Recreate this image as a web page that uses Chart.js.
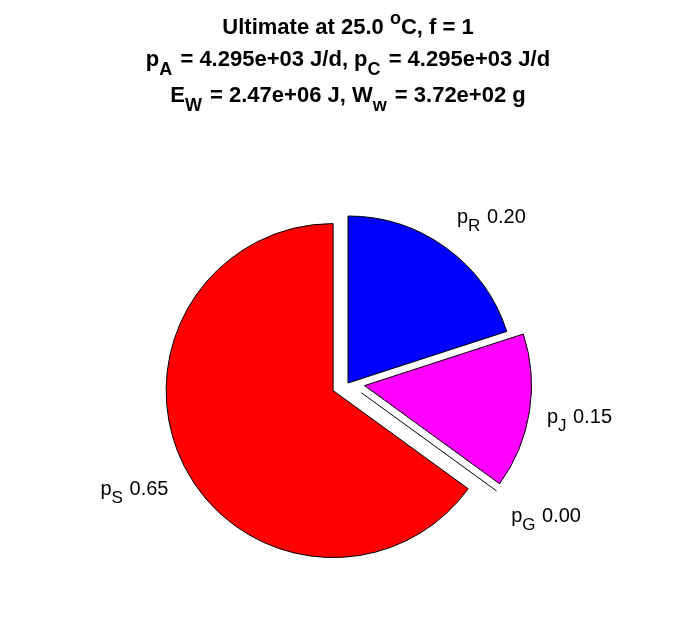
<!DOCTYPE html>
<html>
<head>
<meta charset="utf-8">
<script src="https://cdn.jsdelivr.net/npm/chart.js@4"></script>
<style>
  html, body { margin: 0; padding: 0; background: #fff; }
  #wrap { width: 696px; height: 618px; }
</style>
</head>
<body>
<div id="wrap"><canvas id="pieChart" width="696" height="618"></canvas></div>
<script>
// slice data (clockwise from 12 o'clock)
const partNames = ["R", "J", "G", "S"];
const partValues = [0.20, 0.15, 0.00, 0.65];
const partColors = ["#0000ff", "#ff00ff", "#ffff00", "#ff0000"];
const explode = [0, 1, 1, 1];

// values shown in the title
const tempC = 25.0;
const fValue = 1;
const pA = 4.295e3;
const pC = 4.295e3;
const EW = 2.47e6;
const Ww = 3.72e2;

const FONT = '"Liberation Sans", Arial, Helvetica, sans-serif';

function expo(v, digits) {
    // 4.295e+03 style like matlab
    const s = v.toExponential(digits);
    return s.replace(/e([+-])(\d)$/, "e$10$2");
}

// draw text made of runs: [text, kind] where kind is "n", "sub" or "sup"
function drawRuns(ctx, runs, x, y, align, st) {
    const fontOf = (k) => (k === "n" ? st.big : st.small);
    const widthOf = (t, k) => {
        ctx.font = fontOf(k);
        return ctx.measureText(t).width + (k === "sub" ? st.subPad : 0);
    };
    let total = 0;
    runs.forEach(([t, k]) => (total += widthOf(t, k)));
    let cx = x;
    if (align === "center") cx = x - total / 2;
    if (align === "right") cx = x - total;
    ctx.textAlign = "left";
    ctx.textBaseline = "alphabetic";
    ctx.fillStyle = "#000";
    runs.forEach(([t, k]) => {
        const w = widthOf(t, k);
        let dy = 0;
        if (k === "sub") dy = st.subShift;
        if (k === "sup") dy = st.supShift;
        ctx.fillText(t, cx, y + dy);
        cx += w;
    });
}

// move exploded slices out along their middle angle, zero slices become a line
const explodePlugin = {
    id: "explodePie",
    afterDatasetUpdate(chart, args) {
        const meta = chart.getDatasetMeta(args.index);
        meta.data.forEach((arc, i) => {
            if (arc.$exploded) return;
            const baseDraw = arc.draw;
            arc.draw = function (ctx, area) {
                const mid = (this.startAngle + this.endAngle) / 2;
                const d = explode[i] * 0.1 * this.outerRadius;
                ctx.save();
                ctx.translate(Math.cos(mid) * d, Math.sin(mid) * d);
                if (this.circumference === 0) {
                    ctx.beginPath();
                    ctx.moveTo(this.x, this.y);
                    ctx.lineTo(
                        this.x + Math.cos(this.startAngle) * this.outerRadius,
                        this.y + Math.sin(this.startAngle) * this.outerRadius
                    );
                    ctx.strokeStyle = this.options.borderColor;
                    ctx.lineWidth = this.options.borderWidth;
                    ctx.stroke();
                } else {
                    baseDraw.call(this, ctx, area);
                }
                ctx.restore();
            };
            arc.$exploded = true;
        });
    },
};

// slice labels, placed outside like matlab's pie
const labelPlugin = {
    id: "pieLabels",
    afterDatasetsDraw(chart) {
        const ctx = chart.ctx;
        const meta = chart.getDatasetMeta(0);
        const st = {
            big: "20px " + FONT,
            small: "17px " + FONT,
            subShift: 8,
            supShift: -8,
            subPad: 1,
        };
        meta.data.forEach((arc, i) => {
            const mid = (arc.startAngle + arc.endAngle) / 2;
            const c = Math.cos(mid);
            const s = Math.sin(mid);
            const d = explode[i] * 0.1 * arc.outerRadius;
            const r = 1.1 * arc.outerRadius + d;
            const ax = arc.x + c * r;
            const ay = arc.y + s * r;
            const align = c >= 0 ? "left" : "right";
            let by = ay + 9;
            if (s < -0.3) by = ay - 11;
            if (s > 0.3) by = ay + 21;
            const runs = [
                ["p", "n"],
                [partNames[i], "sub"],
                [" " + partValues[i].toFixed(2), "n"],
            ];
            ctx.save();
            drawRuns(ctx, runs, ax + (align === "left" ? 1 : -1), by, align, st);
            ctx.restore();
        });
    },
};

// three line title with sub and superscripts
const titlePlugin = {
    id: "richTitle",
    afterDraw(chart) {
        const ctx = chart.ctx;
        const area = chart.chartArea;
        const x = (area.left + area.right) / 2;
        const st = {
            big: "bold 22px " + FONT,
            small: "bold 18px " + FONT,
            subShift: 9,
            supShift: -10,
            subPad: 2,
        };
        const lines = [
            [["Ultimate at " + tempC.toFixed(1) + " ", "n"], ["o", "sup"], ["C, f = " + fValue, "n"]],
            [["p", "n"], ["A", "sub"], [" = " + expo(pA, 3) + " J/d, p", "n"], ["C", "sub"], [" = " + expo(pC, 3) + " J/d", "n"]],
            [["E", "n"], ["W", "sub"], [" = " + expo(EW, 2) + " J, W", "n"], ["w", "sub"], [" = " + expo(Ww, 2) + " g", "n"]],
        ];
        const baselines = [34, 66, 102];
        ctx.save();
        lines.forEach((runs, i) => drawRuns(ctx, runs, x, baselines[i], "center", st));
        ctx.restore();
    },
};

document.addEventListener("DOMContentLoaded", function () {
    const ctx = document.getElementById("pieChart");
    new Chart(ctx, {
        type: "pie",
        data: {
            labels: partNames.map((n) => "p" + n),
            datasets: [
                {
                    data: partValues,
                    backgroundColor: partColors,
                    borderColor: "#000000",
                    borderWidth: 1,
                    hoverOffset: 0,
                },
            ],
        },
        options: {
            responsive: false,
            animation: false,
            events: [],
            radius: 167,
            layout: {
                padding: { top: 216, bottom: 68, left: 181, right: 181 },
            },
            plugins: {
                legend: { display: false },
                tooltip: { enabled: false },
                title: { display: false },
            },
        },
        plugins: [explodePlugin, labelPlugin, titlePlugin],
    });
});
</script>
</body>
</html>
